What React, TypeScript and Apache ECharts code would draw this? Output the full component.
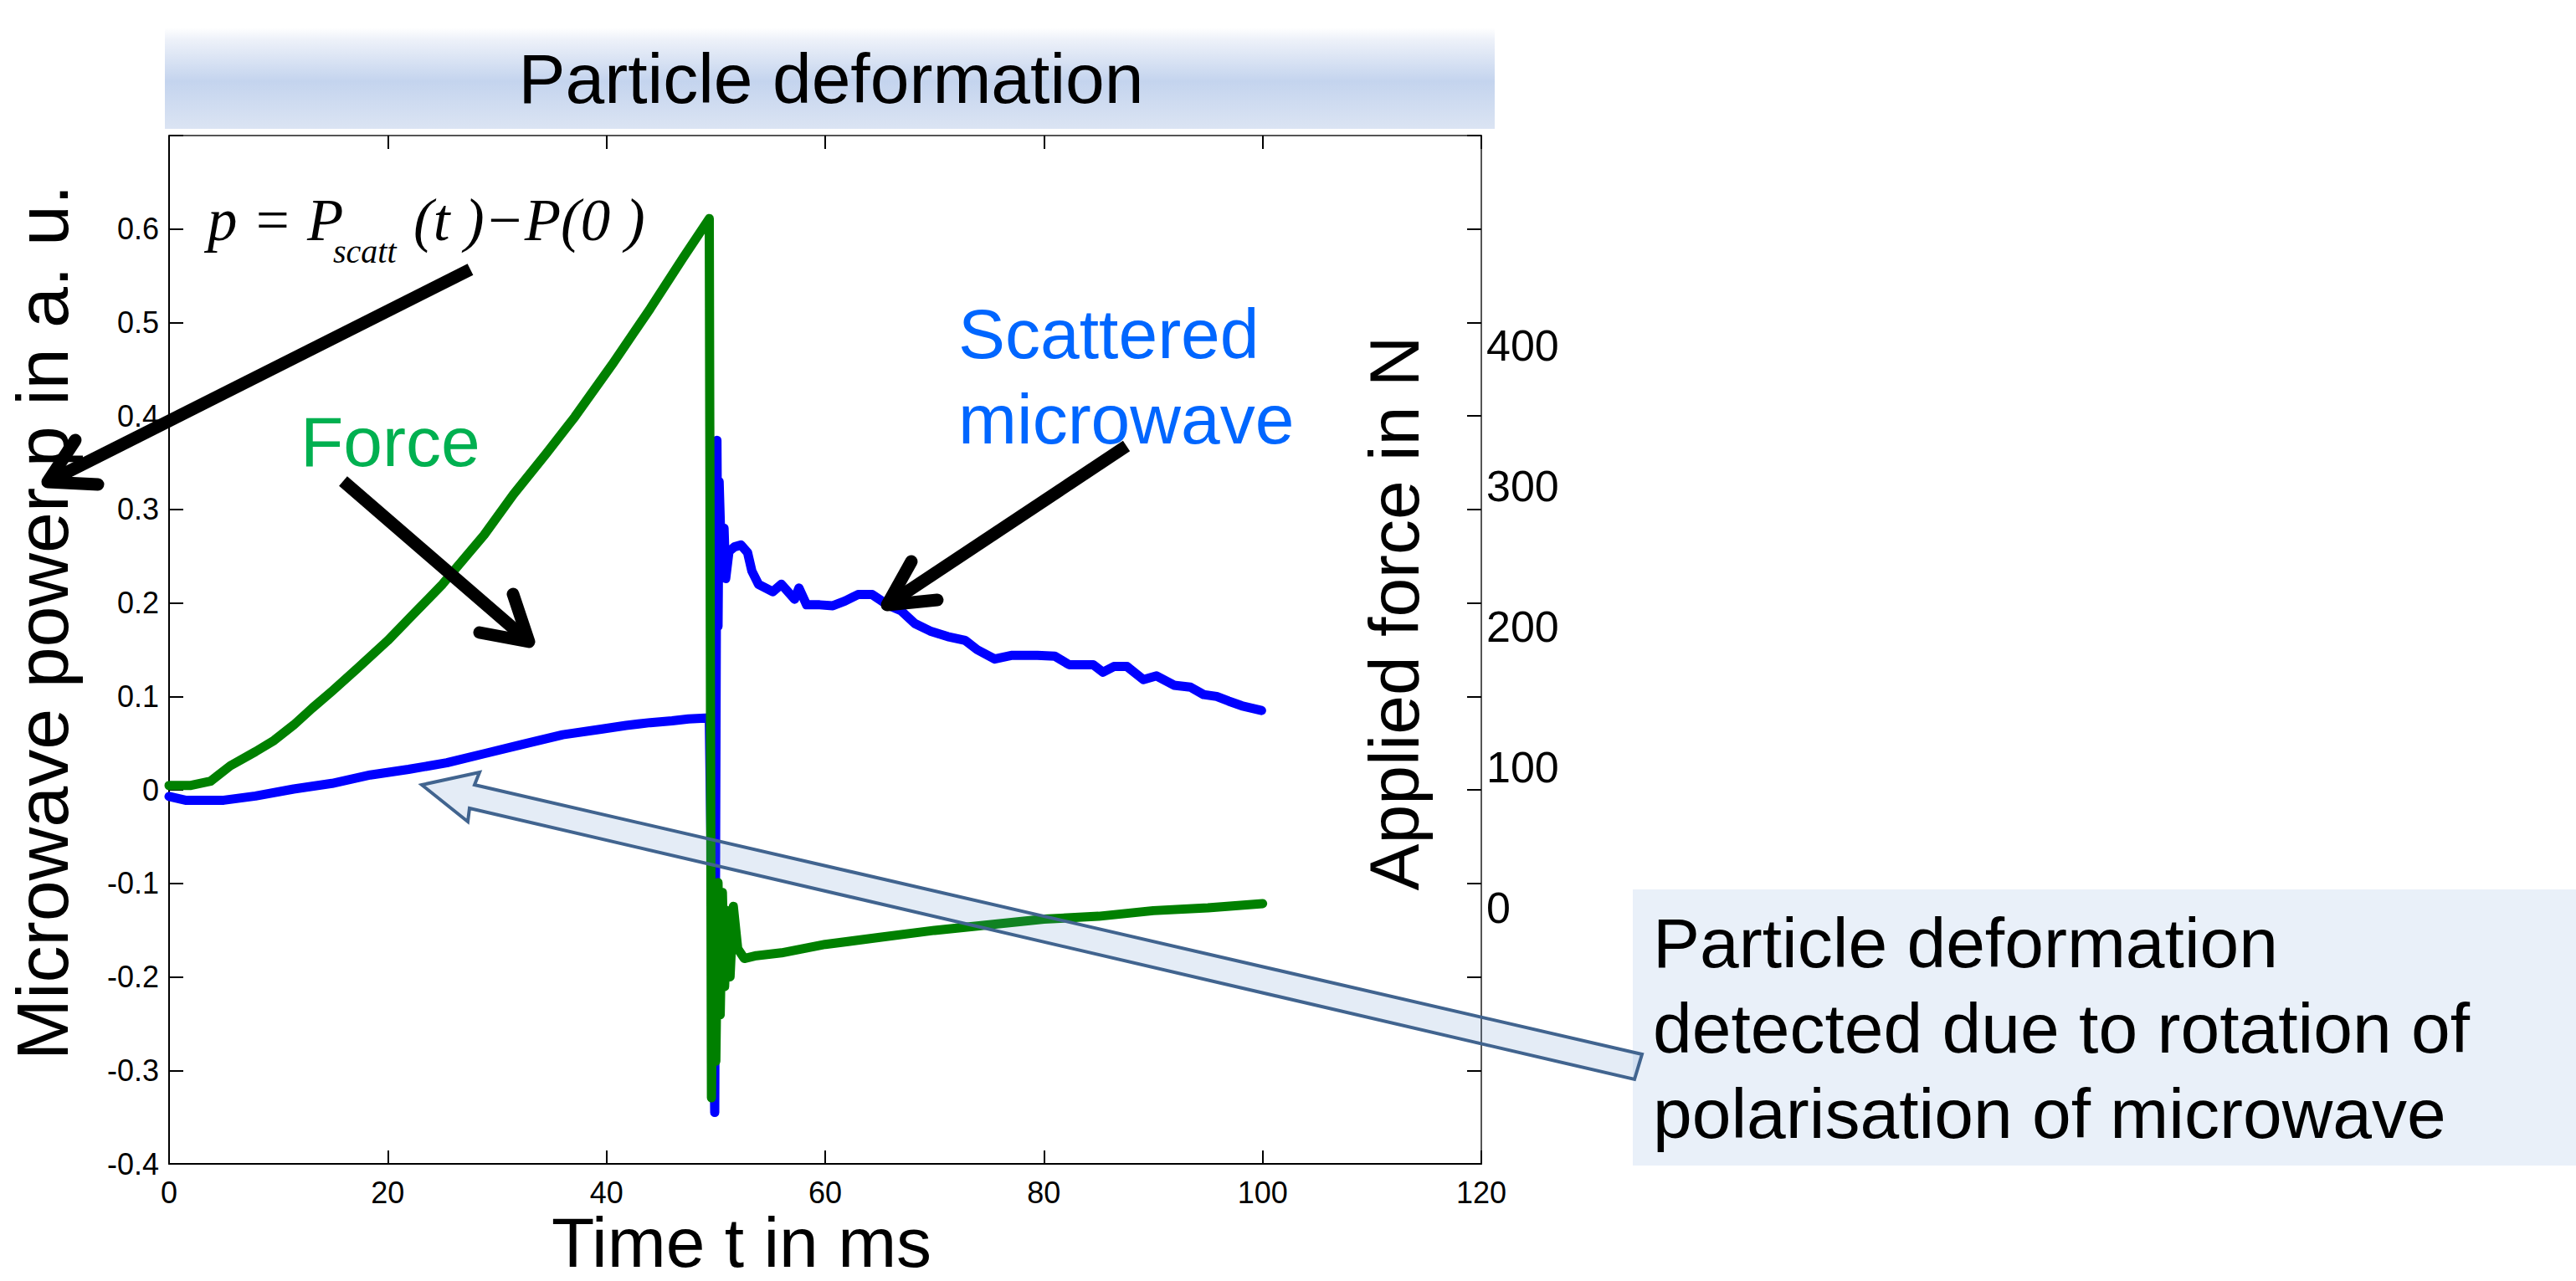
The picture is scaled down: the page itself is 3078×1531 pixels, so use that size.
import React, { useEffect, useRef } from "react";
import * as echarts from "echarts";

// ---- axis ranges / tick labels ----
const timeRange = [0, 120];
const timeStep = 20;
const powerRange = [-0.4, 0.7];
const powerStep = 0.1;
const powerMaxLabel = 0.6;
const forceRange = [-182, 549];
const forceTickLabels = [0, 100, 200, 300, 400];

// ---- scattered microwave p (a. u.) ----
const microwaveTime = [
  0, 1.5, 5, 7.9, 11.4, 14.9, 18.4, 21.9, 25.4, 28.9,
  32.4, 36, 39.5, 41.8, 44, 46, 47.5, 49.4, 49.9, 50.1,
  50.2, 50.3, 50.45, 50.6, 50.75, 50.9, 51.2, 51.7, 52.3, 52.9,
  53.3, 53.9, 55.2, 56, 57.2, 57.6, 58.3, 59.5, 60.7, 61.8,
  63, 64.3, 65.7, 66.9, 68.2, 69.6, 71.2, 72.8, 73.9, 75.5,
  77.1, 79.4, 81, 82.3, 84.5, 85.4, 86.4, 87.6, 89.1, 90.3,
  91.9, 93.4, 94.6, 95.8, 96.9, 98.1, 99.9,
];
const microwavePower = [
  -0.007, -0.011, -0.011, -0.0065, 0.001, 0.007, 0.016, 0.022, 0.029, 0.039,
  0.049, 0.059, 0.065, 0.069, 0.072, 0.074, 0.076, 0.077, -0.345, 0.374,
  0.175, 0.33, 0.27, 0.23, 0.28, 0.226, 0.255, 0.26, 0.262, 0.254,
  0.234, 0.22, 0.212, 0.22, 0.204, 0.216, 0.198, 0.198, 0.197, 0.202,
  0.209, 0.209, 0.198, 0.192, 0.178, 0.17, 0.164, 0.16, 0.15, 0.14,
  0.144, 0.144, 0.143, 0.134, 0.134, 0.126, 0.132, 0.132, 0.118, 0.122,
  0.112, 0.11, 0.102, 0.1, 0.095, 0.09, 0.085,
];

// ---- applied force (N) ----
const forceTime = [
  0, 2, 3.8, 5.6, 7.9, 9.6, 11.4, 13.1, 14.9, 17.2,
  20, 22.5, 25, 28.8, 31.5, 34.5, 37.1, 40.5, 44, 47,
  49.4, 49.6, 49.8, 50.0, 50.2, 50.4, 50.6, 50.8, 51.1, 51.3,
  51.6, 52.0, 52.6, 53.7, 56, 60, 65, 70, 75, 80,
  85, 90, 95, 100,
];
const forceN = [
  87, 87, 90, 101, 111, 119, 130, 142, 154, 170,
  190, 210, 230, 265, 294, 323, 349, 386, 426, 462,
  490, -135, 4, -109, 18, -76, 11, -56, -2, -49,
  1, -29, -36, -34, -32, -26, -21, -16, -12, -8,
  -6, -2, 0, 3,
];

const SANS = "Liberation Sans, Arial, sans-serif";
const SERIF = "Liberation Serif, Times New Roman, serif";

function buildOption() {
  const blue = microwaveTime.map((t, i) => [t, microwavePower[i]]);
  const green = forceTime.map((t, i) => [t, forceN[i]]);

  const arrow = (x1: number, y1: number, x2: number, y2: number, b1: number[], b2: number[]) => [
    { type: "line", z: 50, shape: { x1, y1, x2, y2 }, style: { stroke: "#000", lineWidth: 15 } },
    {
      type: "polyline",
      z: 50,
      shape: { points: [b1, [x2, y2], b2] },
      style: { stroke: "#000", lineWidth: 15, lineCap: "round", lineJoin: "round", fill: null },
    },
  ];

  return {
    animation: false,
    backgroundColor: "#fff",
    grid: { left: 202, right: 1308, top: 162, bottom: 140, containLabel: false },
    xAxis: [
      {
        type: "value",
        min: timeRange[0],
        max: timeRange[1],
        interval: timeStep,
        position: "bottom",
        axisLine: { show: true, onZero: false, lineStyle: { color: "#000", width: 2 } },
        axisTick: { show: true, inside: true, length: 16, lineStyle: { color: "#000", width: 2 } },
        axisLabel: { fontSize: 36, color: "#000", fontFamily: SANS, margin: 16 },
        splitLine: { show: false },
      },
      {
        type: "value",
        min: timeRange[0],
        max: timeRange[1],
        interval: timeStep,
        position: "top",
        axisLine: { show: true, onZero: false, lineStyle: { color: "#555", width: 2 } },
        axisTick: { show: true, inside: true, length: 16, lineStyle: { color: "#000", width: 2 } },
        axisLabel: { show: false },
        splitLine: { show: false },
      },
    ],
    yAxis: [
      {
        type: "value",
        min: powerRange[0],
        max: powerRange[1],
        interval: powerStep,
        position: "left",
        axisLine: { show: true, onZero: false, lineStyle: { color: "#000", width: 2 } },
        axisTick: { show: true, inside: true, length: 17, lineStyle: { color: "#000", width: 2 } },
        axisLabel: {
          fontSize: 36,
          color: "#000",
          fontFamily: SANS,
          margin: 12,
          formatter: (v: number) => (v > powerMaxLabel + 0.05 ? "" : String(Math.round(v * 10) / 10)),
        },
        splitLine: { show: false },
      },
      {
        type: "value",
        min: powerRange[0],
        max: powerRange[1],
        interval: powerStep,
        position: "right",
        axisLine: { show: true, onZero: false, lineStyle: { color: "#555", width: 2 } },
        axisTick: { show: true, inside: true, length: 17, lineStyle: { color: "#000", width: 2 } },
        axisLabel: { show: false },
        splitLine: { show: false },
      },
      {
        type: "value",
        min: forceRange[0],
        max: forceRange[1],
        minInterval: 100,
        maxInterval: 100,
        position: "right",
        axisLine: { show: false, onZero: false },
        axisTick: { show: false },
        axisLabel: {
          fontSize: 52,
          color: "#000",
          fontFamily: SANS,
          margin: 6,
          showMinLabel: false,
          showMaxLabel: false,
          formatter: (v: number) => {
            const r = Math.round(v);
            return Math.abs(v - r) < 1e-6 && forceTickLabels.indexOf(r) >= 0 ? String(r) : "";
          },
        },
        splitLine: { show: false },
      },
    ],
    series: [
      {
        name: "Scattered microwave",
        type: "line",
        xAxisIndex: 0,
        yAxisIndex: 0,
        data: blue,
        showSymbol: false,
        symbol: "none",
        z: 2,
        lineStyle: { color: "#0000ff", width: 11, cap: "round", join: "round" },
      },
      {
        name: "Force",
        type: "line",
        xAxisIndex: 0,
        yAxisIndex: 2,
        data: green,
        showSymbol: false,
        symbol: "none",
        z: 3,
        lineStyle: { color: "#008000", width: 11, cap: "round", join: "round" },
      },
    ],
    graphic: [
      {
        type: "rect",
        z: 0,
        shape: { x: 197, y: 33, width: 1589, height: 121 },
        style: {
          fill: new echarts.graphic.LinearGradient(0, 0, 0, 1, [
            { offset: 0, color: "#ffffff" },
            { offset: 0.12, color: "#edf1f9" },
            { offset: 0.53, color: "#c4d4ee" },
            { offset: 1, color: "#dbe4f3" },
          ]),
        },
      },
      {
        type: "text",
        z: 10,
        x: 993,
        y: 94,
        style: { text: "Particle deformation", fontSize: 84, fontFamily: SANS, fill: "#000", align: "center", verticalAlign: "middle" },
      },
      {
        type: "text",
        z: 10,
        x: 50,
        y: 744,
        rotation: Math.PI / 2,
        style: { text: "Microwave power p in a. u.", fontSize: 88, lineHeight: 88, fontFamily: SANS, fill: "#000", align: "center", verticalAlign: "middle" },
      },
      {
        type: "text",
        z: 10,
        x: 1666,
        y: 733,
        rotation: Math.PI / 2,
        style: { text: "Applied force in N", fontSize: 84, fontFamily: SANS, fill: "#000", align: "center", verticalAlign: "middle" },
      },
      {
        type: "text",
        z: 10,
        x: 886,
        y: 1485,
        style: { text: "Time t in ms", fontSize: 84, lineHeight: 80, fontFamily: SANS, fill: "#000", align: "center", verticalAlign: "middle" },
      },
      // formula
      {
        type: "text",
        z: 10,
        x: 248,
        y: 263,
        style: { text: "p = P", fontSize: 71, fontFamily: SERIF, fontStyle: "italic", fill: "#000", align: "left", verticalAlign: "middle" },
      },
      {
        type: "text",
        z: 10,
        x: 398,
        y: 300,
        style: { text: "scatt", fontSize: 40, fontFamily: SERIF, fontStyle: "italic", fill: "#000", align: "left", verticalAlign: "middle" },
      },
      {
        type: "text",
        z: 10,
        x: 494,
        y: 263,
        style: { text: "(t )\u2212P(0 )", fontSize: 71, fontFamily: SERIF, fontStyle: "italic", fill: "#000", align: "left", verticalAlign: "middle" },
      },
      {
        type: "text",
        z: 10,
        x: 359,
        y: 528,
        style: { text: "Force", fontSize: 84, fontFamily: SANS, fill: "#00b050", align: "left", verticalAlign: "middle" },
      },
      {
        type: "text",
        z: 10,
        x: 1145,
        y: 450,
        style: {
          text: "Scattered\nmicrowave",
          fontSize: 84,
          lineHeight: 102,
          fontFamily: SANS,
          fill: "#0066ff",
          align: "left",
          verticalAlign: "middle",
        },
      },
      ...arrow(562, 322, 57, 576, [117, 579], [90, 526]),
      ...arrow(410, 575, 632, 767, [573, 756], [613, 710]),
      ...arrow(1346, 533, 1060, 723, [1120, 717], [1089, 671]),
      {
        type: "rect",
        z: 40,
        shape: { x: 1951, y: 1063, width: 1127, height: 330 },
        style: { fill: "#e9f0f9" },
      },
      {
        type: "polygon",
        z: 60,
        shape: {
          points: [
            [504, 938],
            [573, 923],
            [567, 938],
            [1962, 1260],
            [1953, 1290],
            [561, 966],
            [559, 982],
          ],
        },
        style: { fill: "rgba(94,141,202,0.17)", stroke: "#41648f", lineWidth: 4, lineJoin: "miter" },
      },
      {
        type: "text",
        z: 70,
        x: 1975,
        y: 1229,
        style: {
          text: "Particle deformation\ndetected due to rotation of\npolarisation of microwave",
          fontSize: 84,
          lineHeight: 102,
          fontFamily: SANS,
          fill: "#000",
          align: "left",
          verticalAlign: "middle",
        },
      },
    ],
  };
}

export default function App() {
  const ref = useRef<HTMLDivElement>(null);
  useEffect(() => {
    document.body.style.margin = "0";
    if (!ref.current) return;
    const chart = echarts.init(ref.current, undefined, { renderer: "svg" });
    chart.setOption(buildOption() as any);
    return () => chart.dispose();
  }, []);
  return <div ref={ref} style={{ width: 3078, height: 1531 }} />;
}
